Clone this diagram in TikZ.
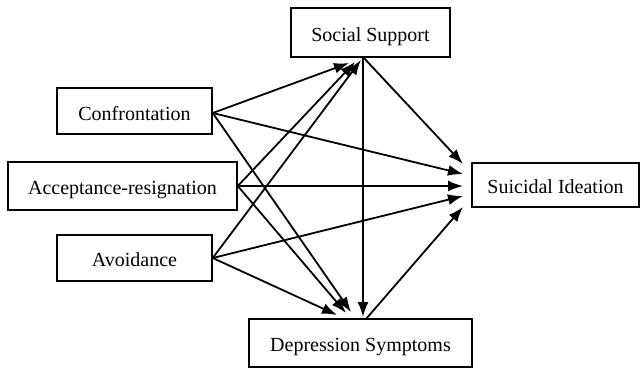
\documentclass[tikz,border=0pt]{standalone}
\usepackage{fontspec}
\setmainfont{Liberation Serif}
\usetikzlibrary{arrows.meta}
\begin{document}
\begin{tikzpicture}[x=1pt,y=-1pt,
  box/.style={draw, line width=1.5pt, inner sep=0pt, font=\fontsize{20}{24}\selectfont, text depth=0pt},
  arr/.style={line width=1.8pt, -{Latex[length=15pt,width=11pt]}}]
\useasboundingbox (0,0) rectangle (640,369);
\node[box, minimum width=159pt, minimum height=49pt] (ss) at (370.5,32.5) {\raisebox{-4pt}{Social Support}};
\node[box, minimum width=223pt, minimum height=48pt] (ds) at (360.5,343) {\raisebox{-4pt}{Depression Symptoms}};
\node[box, minimum width=155pt, minimum height=46pt] (conf) at (134.5,111) {\raisebox{-4pt}{Confrontation}};
\node[box, minimum width=229pt, minimum height=48pt] (acc) at (122.5,186) {\raisebox{-4pt}{Acceptance-resignation}};
\node[box, minimum width=155pt, minimum height=46pt] (avo) at (134.5,258) {\raisebox{-4pt}{Avoidance}};
\node[box, minimum width=167pt, minimum height=44pt] (si) at (555.5,185) {\raisebox{-4pt}{Suicidal Ideation}};
% source / tip points
\coordinate (cfo) at (conf.east |- 0,113);
\coordinate (aco) at (acc.east);
\coordinate (avo2) at (avo.east);
\coordinate (sso) at (363,57);
\coordinate (dso) at (366,319);
\coordinate (ss1) at (349,63);
\coordinate (ss2) at (355,62);
\coordinate (ss3) at (361,60);
\coordinate (ds1) at (351,312);
\coordinate (ds2) at (346,313);
\coordinate (ds3) at (337,315);
\coordinate (ds4) at (363,317);
\coordinate (si0) at (463,164);
\coordinate (si1) at (463,174);
\coordinate (si2) at (463,186);
\coordinate (si3) at (463,196);
\coordinate (si4) at (463,207);
% edges
\draw[arr] (cfo) -- (ss1);
\draw[arr] (aco) -- (ss2);
\draw[arr] (avo2) -- (ss3);
\draw[arr] (cfo) -- (ds1);
\draw[arr] (aco) -- (ds2);
\draw[arr] (avo2) -- (ds3);
\draw[arr] (cfo) -- (si1);
\draw[arr] (aco) -- (si2);
\draw[arr] (avo2) -- (si3);
\draw[arr] (sso) -- (si0);
\draw[arr] (sso) -- (ds4);
\draw[arr] (dso) -- (si4);
\end{tikzpicture}
\end{document}
